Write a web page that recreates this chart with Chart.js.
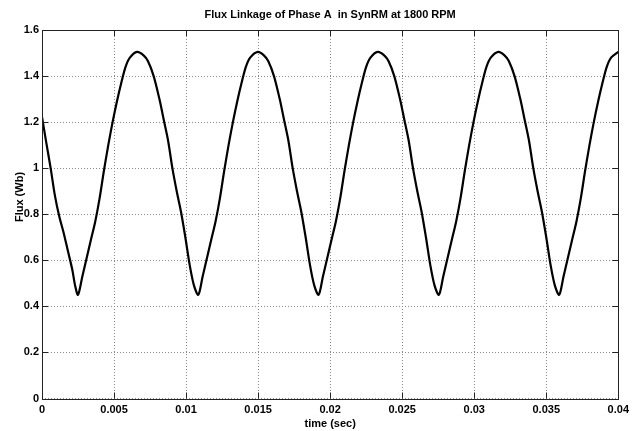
<!DOCTYPE html>
<html>
<head>
<meta charset="utf-8">
<script src="https://cdn.jsdelivr.net/npm/chart.js@4.4.0/dist/chart.umd.min.js"></script>
<style>
  html, body { margin: 0; padding: 0; background: #fff; }
</style>
</head>
<body>
<canvas id="grafico" width="634" height="431"></canvas>
<script>
// flujo de fase A, SynRM a 1800 rpm
const titulo = 'Flux Linkage of Phase A  in SynRM at 1800 RPM';
const ejeX = 'time (sec)';
const ejeY = 'Flux (Wb)';

const xTicks = [0, 0.005, 0.01, 0.015, 0.02, 0.025, 0.03, 0.035, 0.04];
const xTickLabels = ['0', '0.005', '0.01', '0.015', '0.02', '0.025', '0.03', '0.035', '0.04'];
const yTicks = [0, 0.2, 0.4, 0.6, 0.8, 1.0, 1.2, 1.4, 1.6];
const yTickLabels = ['0', '0.2', '0.4', '0.6', '0.8', '1', '1.2', '1.4', '1.6'];

const timeSec = [
  0.0000, 0.0003, 0.0006, 0.0009, 0.0012, 0.0015, 0.0018, 0.0021, 0.0023, 0.0025,
  0.0028, 0.0031, 0.0034, 0.0037, 0.0040, 0.0043, 0.0046, 0.0049, 0.0052, 0.0055, 0.0058, 0.0061, 0.0066,
  0.00705, 0.00735, 0.00775, 0.00815, 0.00845, 0.00875, 0.00905, 0.00935, 0.00965, 0.00995, 0.01025, 0.01055, 0.01085,
  0.01115, 0.01145, 0.01175, 0.01205, 0.01235, 0.01265, 0.01295, 0.01325, 0.01355, 0.01385, 0.01415, 0.01445, 0.01498,
  0.0154, 0.0157, 0.0161, 0.0165, 0.0168, 0.0171, 0.0174, 0.0177, 0.0180, 0.0183, 0.0186, 0.0189, 0.0192,
  0.0195, 0.0198, 0.0201, 0.0204, 0.0207, 0.0210, 0.0213, 0.0216, 0.0219, 0.0222, 0.0225, 0.0228, 0.0233,
  0.02375, 0.02405, 0.02445, 0.02485, 0.02515, 0.02545, 0.02575, 0.02605, 0.02635, 0.02665, 0.02695, 0.02725, 0.02755,
  0.02785, 0.02815, 0.02845, 0.02875, 0.02905, 0.02935, 0.02965, 0.02995, 0.03025, 0.03055, 0.03085, 0.03115, 0.03167,
  0.0321, 0.0324, 0.0328, 0.0332, 0.0335, 0.0338, 0.0341, 0.0344, 0.0347, 0.0350, 0.0353, 0.0356, 0.0359,
  0.0362, 0.0365, 0.0368, 0.0371, 0.0374, 0.0377, 0.0380, 0.0383, 0.0386, 0.0389, 0.0392, 0.0395, 0.0400
];

const fluxWb = [
  1.223, 1.11, 1.00, 0.88, 0.79, 0.72, 0.64, 0.56, 0.49, 0.45,
  0.53, 0.61, 0.69, 0.77, 0.87, 0.99, 1.10, 1.20, 1.29, 1.37, 1.44, 1.48, 1.505,
  1.49, 1.465, 1.40, 1.30, 1.21, 1.12, 1.00, 0.90, 0.81, 0.70, 0.58, 0.49, 0.45,
  0.53, 0.61, 0.69, 0.77, 0.87, 0.99, 1.10, 1.20, 1.29, 1.37, 1.44, 1.48, 1.505,
  1.49, 1.465, 1.40, 1.30, 1.21, 1.12, 1.00, 0.90, 0.81, 0.70, 0.58, 0.49, 0.45,
  0.53, 0.61, 0.69, 0.77, 0.87, 0.99, 1.10, 1.20, 1.29, 1.37, 1.44, 1.48, 1.505,
  1.49, 1.465, 1.40, 1.30, 1.21, 1.12, 1.00, 0.90, 0.81, 0.70, 0.58, 0.49, 0.45,
  0.53, 0.61, 0.69, 0.77, 0.87, 0.99, 1.10, 1.20, 1.29, 1.37, 1.44, 1.48, 1.505,
  1.49, 1.465, 1.40, 1.30, 1.21, 1.12, 1.00, 0.90, 0.81, 0.70, 0.58, 0.49, 0.45,
  0.53, 0.61, 0.69, 0.77, 0.87, 0.99, 1.10, 1.20, 1.29, 1.37, 1.44, 1.48, 1.505
];

const fuente = "'Liberation Sans Narrow', 'Arial Narrow', 'Liberation Sans', Arial, sans-serif";

// caja estilo matlab: borde + ticks hacia adentro + titulos
const cajaMatlab = {
  id: 'cajaMatlab',
  afterDraw(chart) {
    const ctx = chart.ctx;
    const a = chart.chartArea;
    const sx = chart.scales.x;
    const sy = chart.scales.y;
    const largo = 6;
    ctx.save();
    ctx.strokeStyle = '#222';
    ctx.lineWidth = 1;
    ctx.beginPath();
    xTicks.forEach(v => {
      const px = Math.round(sx.getPixelForValue(v)) + 0.5;
      ctx.moveTo(px, a.bottom); ctx.lineTo(px, a.bottom - largo);
      ctx.moveTo(px, a.top); ctx.lineTo(px, a.top + largo);
    });
    yTicks.forEach(v => {
      const py = Math.round(sy.getPixelForValue(v)) + 0.5;
      ctx.moveTo(a.left, py); ctx.lineTo(a.left + largo, py);
      ctx.moveTo(a.right, py); ctx.lineTo(a.right - largo, py);
    });
    ctx.stroke();
    ctx.strokeRect(Math.round(a.left) + 0.5, Math.round(a.top) + 0.5,
      Math.round(a.right - a.left), Math.round(a.bottom - a.top));

    ctx.fillStyle = '#000';
    ctx.font = 'bold 11px ' + fuente;
    ctx.textAlign = 'center';
    ctx.textBaseline = 'middle';
    ctx.fillText(titulo, (a.left + a.right) / 2, 15);

    // titulo eje y (un poco arriba del centro, como en el original)
    ctx.translate(20, 197);
    ctx.rotate(-Math.PI / 2);
    ctx.fillText(ejeY, 0, 0);
    ctx.restore();
  }
};

new Chart(document.getElementById('grafico'), {
  type: 'line',
  data: {
    datasets: [{
      data: timeSec.map((t, i) => ({ x: t, y: fluxWb[i] })),
      borderColor: '#000',
      borderWidth: 2.2,
      pointRadius: 0,
      fill: false,
      tension: 0.3
    }]
  },
  options: {
    responsive: false,
    animation: false,
    devicePixelRatio: 1,
    layout: { padding: { top: 30, right: 9, left: 0, bottom: 0 } },
    plugins: { legend: { display: false }, tooltip: { enabled: false }, title: { display: false } },
    scales: {
      x: {
        type: 'linear', min: 0, max: 0.04,
        afterBuildTicks: s => { s.ticks = xTicks.map(v => ({ value: v })); },
        afterFit: s => { s.height = 32.5; },
        ticks: {
          callback: (v, i) => xTickLabels[i],
          color: '#000', padding: 5, maxRotation: 0,
          font: { family: fuente, size: 11, weight: 'bold' }
        },
        grid: { color: '#8a8a8a', drawTicks: false, lineWidth: 1 },
        border: { display: false, dash: [1, 2] },
        title: { display: true, text: ejeX, color: '#000', padding: { top: 0, bottom: 0 },
          font: { family: fuente, size: 11, weight: 'bold' } }
      },
      y: {
        min: 0, max: 1.6,
        afterBuildTicks: s => { s.ticks = yTicks.map(v => ({ value: v })); },
        afterFit: s => { s.width = 42; },
        ticks: {
          callback: (v, i) => yTickLabels[i],
          color: '#000', padding: 3,
          font: { family: fuente, size: 11, weight: 'bold' }
        },
        grid: { color: '#8a8a8a', drawTicks: false, lineWidth: 1 },
        border: { display: false, dash: [1, 2] },
        title: { display: false }
      }
    }
  },
  plugins: [cajaMatlab]
});
</script>
</body>
</html>
